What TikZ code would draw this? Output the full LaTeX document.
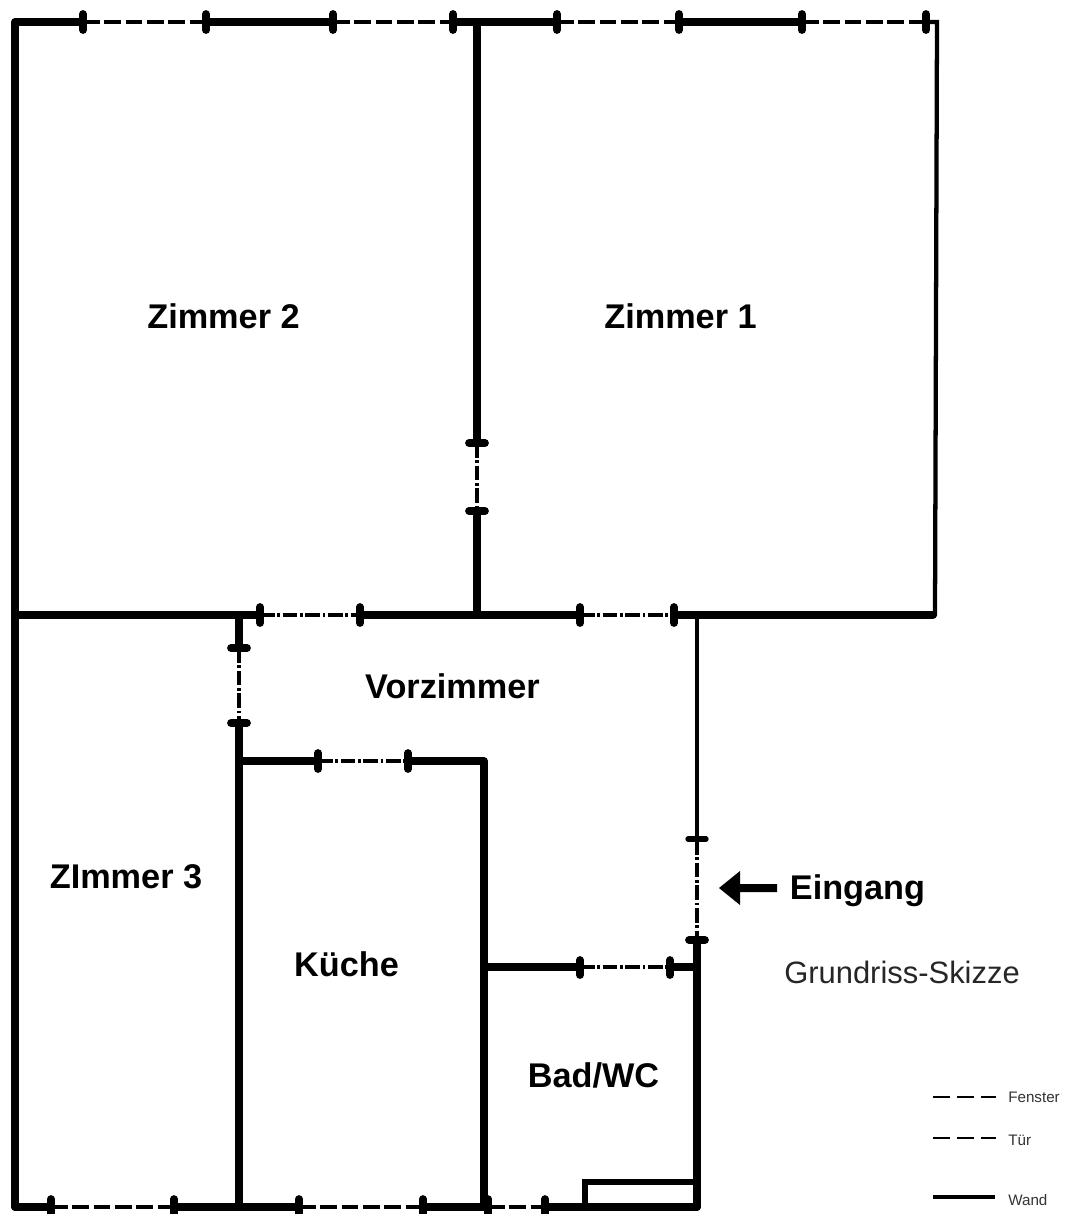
\documentclass[tikz,border=0pt]{standalone}
\usepackage{fontspec}
\setmainfont{Liberation Sans}
\begin{document}
\begin{tikzpicture}[x=0.75pt,y=-0.75pt,
  wall/.style={line width=5.8pt,line cap=round,line join=round,black},
  thinwall/.style={line width=3.2pt,line cap=round,line join=miter,black},
  midwall/.style={line width=3.6pt,line cap=butt,black},
  boxwall/.style={line width=4.6pt,line cap=butt,line join=miter,black},
  opening/.style={line width=2.8pt,black,dash pattern=on 12.5pt off 3.5pt},
  doorline/.style={line width=2.8pt,black,dash pattern=on 11pt off 2pt on 2pt off 2pt},
  jamb/.style={line width=5.8pt,line cap=round,black},
  roomlabel/.style={font=\fontsize{25.7}{30}\selectfont\bfseries,text=black,inner sep=0pt},
  notelabel/.style={font=\fontsize{23.2}{28}\selectfont,text=black!85,inner sep=0pt},
  keylabel/.style={font=\fontsize{11.4}{13}\selectfont,text=black!80,inner sep=0pt,anchor=west},
  keydash/.style={line width=1.8pt,black,dash pattern=on 12.6pt off 5.4pt}]
\useasboundingbox (0,0) rectangle (1065,1214);
\fill[white] (0,0) rectangle (1065,1214);
% outer walls
\draw[wall] (15,1207) -- (15,22) -- (83,22);
\draw[wall] (206,22) -- (333,22);
\draw[wall] (453,22) -- (557,22);
\draw[wall] (679,22) -- (802,22);
\draw[thinwall] (926,22) -- (937,22) -- (935,615);
% middle horizontal
\draw[wall] (15,615) -- (260,615);
\draw[wall] (360,615) -- (580,615);
\draw[wall] (674,615) -- (933,615);
% partition Zimmer 1 / 2
\draw[wall] (477,22) -- (477,443);
\draw[wall] (477,511) -- (477,615);
% partition Zimmer 3
\draw[wall] (239,615) -- (239,648);
\draw[wall] (239,723) -- (239,1207);
% kitchen
\draw[wall] (239,761) -- (318,761);
\draw[wall] (408,761) -- (484,761) -- (484,1207);
% bath
\draw[wall] (484,967) -- (580,967);
\draw[wall] (672,967) -- (697,967);
% entrance wall
\draw[midwall] (697,615) -- (697,840);
\draw[wall] (697,940) -- (697,1207);
% bottom wall
\draw[wall] (15,1207) -- (51,1207);
\draw[wall] (174,1207) -- (299,1207);
\draw[wall] (423,1207) -- (488,1207);
\draw[wall] (545,1207) -- (697,1207);
% shower box
\draw[boxwall] (585,1207) -- (585,1182) -- (697,1182);
% windows
\foreach \a/\b in {83/206,333/453,557/679,802/926}
  \draw[opening] (\a,22) -- (\b,22);
\foreach \a/\b in {51/174,299/423,488/545}
  \draw[opening] (\a,1207) -- (\b,1207);
% doors
\foreach \a/\b in {260/360,580/674}
  \draw[doorline] (\a,615) -- (\b,615);
\draw[doorline] (318,761) -- (408,761);
\draw[doorline] (580,967) -- (672,967);
\draw[doorline] (477,443) -- (477,511);
\draw[doorline] (239,648) -- (239,723);
\draw[doorline] (697,840) -- (697,940);
% jambs
\foreach \x in {83,206,333,453,557,679,802,926}
  \draw[jamb] (\x,14) -- (\x,30);
\foreach \x in {260,360,580,674}
  \draw[jamb] (\x,607) -- (\x,623);
\foreach \x in {318,408}
  \draw[jamb] (\x,753) -- (\x,769);
\foreach \x in {580,670}
  \draw[jamb] (\x,960) -- (\x,975);
\foreach \x in {51,174,299,423,488,545}
  \draw[jamb] (\x,1199) -- (\x,1214);
\foreach \y in {443,511}
  \draw[jamb] (469,\y) -- (485,\y);
\foreach \y in {648,723}
  \draw[jamb] (231,\y) -- (247,\y);
\draw[jamb,line width=4pt] (688,839) -- (706,839);
\draw[jamb] (689,940) -- (705,940);
% entrance arrow
\fill[black] (719,888) -- (740,871) -- (740,884) -- (777,884) -- (777,892) -- (740,892) -- (740,905) -- cycle;
% labels
\node[roomlabel] (z2) at (223.5,316) {Zimmer 2};
\node[roomlabel] (z1) at (680.5,316) {Zimmer 1};
\node[roomlabel] (vz) at (452.5,686) {Vorzimmer};
\node[roomlabel] (z3) at (126,877) {ZImmer 3};
\node[roomlabel] (ku) at (346.5,964) {Küche};
\node[roomlabel] (bw) at (593.5,1075) {Bad/WC};
\node[roomlabel] (ei) at (857.5,891) {Eingang};
\node[notelabel] (gr) at (902,972) {Grundriss-Skizze};
% legend
\draw[keydash] (933,1097) -- (996,1097);
\node[keylabel] (kf) at (1008,1097) {Fenster};
\draw[keydash] (933,1138) -- (996,1138);
\node[keylabel] (kt) at (1008,1140) {Tür};
\draw[line width=2.8pt,black] (933,1197) -- (995,1197);
\node[keylabel] (kw) at (1008,1200) {Wand};
\end{tikzpicture}
\end{document}
